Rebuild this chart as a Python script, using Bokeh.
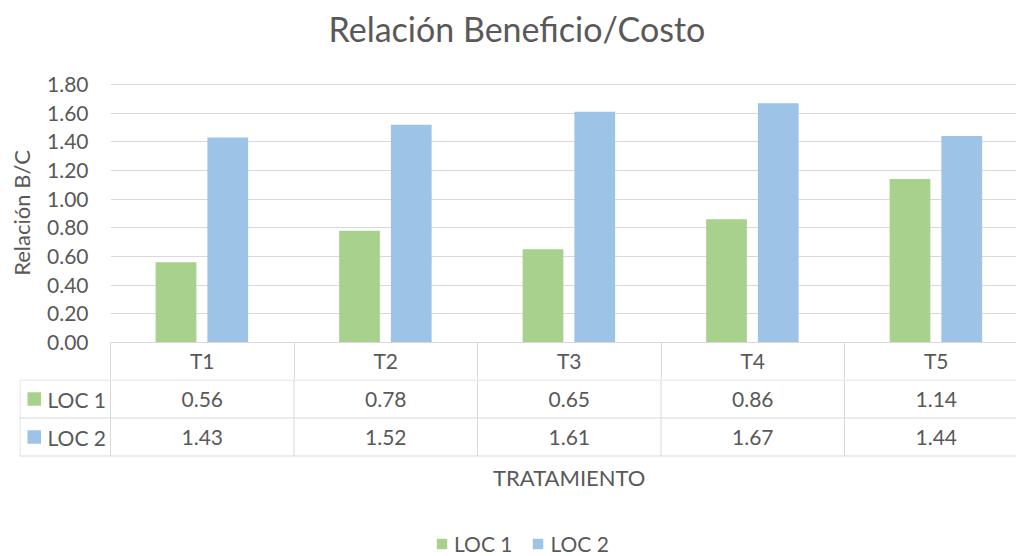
from bokeh.plotting import figure
from bokeh.layouts import column
from bokeh.models import (ColumnDataSource, Range1d, FixedTicker, Legend, LegendItem,
                          NumeralTickFormatter, Title)
from bokeh.transform import dodge
from bokeh.core.properties import value
from bokeh.embed import file_html
from bokeh.resources import INLINE

# ---------------- data ----------------
categories = ["T1", "T2", "T3", "T4", "T5"]
loc1 = [0.56, 0.78, 0.65, 0.86, 1.14]
loc2 = [1.43, 1.52, 1.61, 1.67, 1.44]
series_names = ["LOC 1", "LOC 2"]
y_ticks = [0.0, 0.2, 0.4, 0.6, 0.8, 1.0, 1.2, 1.4, 1.6, 1.8]
title_text = "Relación Beneficio/Costo"
y_label = "Relación B/C"
x_label = "TRATAMIENTO"

# ---------------- style ----------------
GREEN = "#A9D18E"
BLUE = "#9DC3E6"
GRID = "#D9D9D9"
TEXT = "#595959"
FONT = "Lato"
FS = "21px"
FS_AX = "22px"

W = 1016
CELL = 183.5            # px per category
TOP_LEFT = 110          # chart frame left (px)
BOT_LEFT = 19           # table frame left (px)
x_start = -0.5
x_end = x_start + (W - TOP_LEFT) / CELL
PX_Y = 143.2
ROW = 38.0

xs = list(range(len(categories)))
src = ColumnDataSource(dict(x=xs, loc1=loc1, loc2=loc2, cat=categories))

# ---------------- chart ----------------
p = figure(width=W, height=379, output_backend="svg", toolbar_location=None, tools="",
           x_range=Range1d(x_start, x_end), y_range=Range1d(0, 1.8 + 1 / PX_Y),
           min_border_left=TOP_LEFT, min_border_right=0, min_border_top=83,
           min_border_bottom=37, title=title_text)
p.frame_align = False
p.outline_line_color = None

p.title.align = "left"
p.title.offset = 218
p.title.text_font = FONT
p.title.text_font_size = "34px"
p.title.text_font_style = "normal"
p.title.text_color = TEXT
p.title.standoff = 0
# spacer between the title and the plot area
p.add_layout(Title(text=" ", text_font_size="1px", standoff=32), "above")

p.vbar(x=dodge("x", -0.143, range=p.x_range), top="loc1", bottom=0, width=0.222,
       source=src, fill_color=GREEN, line_color=None)
p.vbar(x=dodge("x", 0.139, range=p.x_range), top="loc2", bottom=0, width=0.222,
       source=src, fill_color=BLUE, line_color=None)

p.xgrid.visible = False
p.ygrid.ticker = FixedTicker(ticks=y_ticks)
p.ygrid.grid_line_color = GRID
p.ygrid.grid_line_width = 1

ya = p.yaxis[0]
ya.ticker = FixedTicker(ticks=y_ticks)
ya.formatter = NumeralTickFormatter(format="0.00")
ya.axis_line_color = None
ya.major_tick_line_color = None
ya.minor_tick_line_color = None
ya.major_tick_out = 0
ya.major_tick_in = 0
ya.major_label_standoff = 22
ya.major_label_text_font = FONT
ya.major_label_text_font_size = FS
ya.major_label_text_color = TEXT
ya.axis_label = y_label
ya.axis_label_text_font = FONT
ya.axis_label_text_font_size = FS_AX
ya.axis_label_text_font_style = "normal"
ya.axis_label_text_color = TEXT
ya.axis_label_standoff = 9

xa = p.xaxis[0]
xa.ticker = FixedTicker(ticks=xs, minor_ticks=[i - 0.5 for i in range(len(categories) + 1)])
xa.major_label_overrides = {i: c for i, c in enumerate(categories)}
xa.axis_line_color = GRID
xa.axis_line_width = 1
xa.major_tick_line_color = None
xa.major_tick_out = 0
xa.major_tick_in = 0
xa.minor_tick_line_color = GRID
xa.minor_tick_out = 37
xa.minor_tick_in = 0
xa.major_label_standoff = -32
xa.major_label_text_font = FONT
xa.major_label_text_font_size = FS
xa.major_label_text_color = TEXT

# ---------------- data table ----------------
TH = 177
bx_start = x_start - (TOP_LEFT - BOT_LEFT) / CELL
by_end = 2 + 0.5 / ROW
by_start = by_end - TH / ROW
t = figure(width=W, height=TH, output_backend="svg", toolbar_location=None, tools="",
           x_range=Range1d(bx_start, x_end), y_range=Range1d(by_start, by_end),
           min_border_left=BOT_LEFT, min_border_right=0, min_border_top=0,
           min_border_bottom=0, x_axis_location=None, y_axis_location=None)
t.frame_align = False
t.outline_line_color = None
t.xgrid.visible = False
t.ygrid.visible = False

edge = bx_start + 0.5 / CELL
t.segment(x0=[edge] * 3, x1=[len(categories) - 0.5] * 3, y0=[2, 1, 0], y1=[2, 1, 0],
          line_color=GRID, line_width=1)
vx = [edge] + [i - 0.5 for i in range(len(categories))]
t.segment(x0=vx, x1=vx, y0=[0] * len(vx), y1=[2] * len(vx), line_color=GRID, line_width=1)

t.text(x=xs, y=[1.5] * len(xs), text=[f"{v:.2f}" for v in loc1], text_align="center",
       text_baseline="middle", text_font=value(FONT), text_font_size=value(FS), text_color=TEXT)
t.text(x=xs, y=[0.5] * len(xs), text=[f"{v:.2f}" for v in loc2], text_align="center",
       text_baseline="middle", text_font=value(FONT), text_font_size=value(FS), text_color=TEXT)

sq_l = bx_start + 8 / CELL
sq_r = sq_l + 13.5 / CELL
hs = 6.75 / ROW
r1 = t.quad(left=[sq_l], right=[sq_r], bottom=[1.5 - hs], top=[1.5 + hs],
            fill_color=GREEN, line_color=None)
r2 = t.quad(left=[sq_l], right=[sq_r], bottom=[0.5 - hs], top=[0.5 + hs],
            fill_color=BLUE, line_color=None)
lab_x = bx_start + 28 / CELL
t.text(x=[lab_x, lab_x], y=[1.5, 0.5], text=series_names, text_align="left",
       text_baseline="middle", text_font=value(FONT), text_font_size=value(FS), text_color=TEXT)

# axis title of the category axis
t.text(x=[(len(categories) - 1) / 2], y=[by_end - (477 - 379) / ROW], text=[x_label],
       text_align="center", text_baseline="middle", text_font=value(FONT),
       text_font_size=value(FS_AX), text_color=TEXT)

legend = Legend(items=[LegendItem(label=series_names[0], renderers=[r1]),
                       LegendItem(label=series_names[1], renderers=[r2])],
                orientation="horizontal", location=(416, 0),
                border_line_color=None, background_fill_alpha=0,
                glyph_width=13, glyph_height=13, label_standoff=6, spacing=19,
                label_text_font=FONT, label_text_font_size=FS, label_text_color=TEXT,
                margin=0, padding=0)
t.add_layout(legend)

layout = column(p, t, spacing=0)
open("out.html", "w").write(file_html(layout, INLINE))
